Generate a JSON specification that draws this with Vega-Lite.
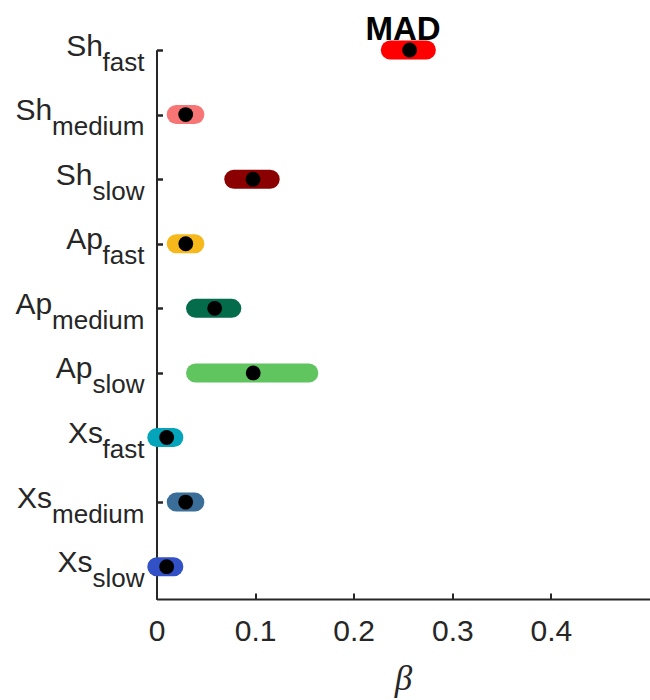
{
  "$schema": "https://vega.github.io/schema/vega-lite/v6.json",
  "width": 493,
  "height": 549,
  "autosize": {"type": "none"},
  "padding": {"left": 156.5, "top": 50, "right": 0.5, "bottom": 101},
  "background": "white",
  "title": {"text": "MAD", "font": "Liberation Sans", "fontSize": 33, "fontWeight": "bold", "color": "#000000", "anchor": "middle", "frame": "group", "baseline": "alphabetic", "offset": -42},
  "config": {"view": {"stroke": null}},
  "data": {"values": [
    {"cond": "Sh_fast", "idx": 1, "lo": 0.2371, "hi": 0.2737, "med": 0.2567},
    {"cond": "Sh_medium", "idx": 2, "lo": 0.0200, "hi": 0.0389, "med": 0.0296},
    {"cond": "Sh_slow", "idx": 3, "lo": 0.0784, "hi": 0.1153, "med": 0.0979},
    {"cond": "Ap_fast", "idx": 4, "lo": 0.0200, "hi": 0.0389, "med": 0.0297},
    {"cond": "Ap_medium", "idx": 5, "lo": 0.0396, "hi": 0.0764, "med": 0.0590},
    {"cond": "Ap_slow", "idx": 6, "lo": 0.0396, "hi": 0.1545, "med": 0.0981},
    {"cond": "Xs_fast", "idx": 7, "lo": 0.0003, "hi": 0.0176, "med": 0.0103},
    {"cond": "Xs_medium", "idx": 8, "lo": 0.0200, "hi": 0.0389, "med": 0.0296},
    {"cond": "Xs_slow", "idx": 9, "lo": 0.0003, "hi": 0.0176, "med": 0.0103}
  ]},
  "resolve": {"axis": {"y": "independent"}},
  "layer": [
    {
      "mark": {"type": "rule", "strokeWidth": 19, "strokeCap": "round"},
      "encoding": {
        "x": {"field": "lo", "type": "quantitative",
              "scale": {"domain": [0, 0.5], "nice": false, "zero": false},
              "axis": {"values": [0, 0.1, 0.2, 0.3, 0.4], "labelExpr": "datum.value == 0 ? '0' : format(datum.value, '.1f')",
                       "labelFont": "Liberation Sans", "labelFontSize": 30, "labelColor": "#262626", "labelFlush": false, "labelOverlap": false,
                       "labelPadding": 23, "tickSize": -6, "tickWidth": 2, "tickColor": "#262626", "domainColor": "#262626", "domainWidth": 2,
                       "grid": false, "title": "β", "titleFont": "Liberation Serif", "titleFontStyle": "italic", "titleFontWeight": "normal",
                       "titleFontSize": 35, "titleColor": "#262626", "titlePadding": 15}},
        "x2": {"field": "hi"},
        "y": {"field": "idx", "type": "quantitative",
              "scale": {"domain": [1, 9.5], "reverse": true, "nice": false, "zero": false},
              "axis": {"orient": "left", "values": [1, 2, 3, 4, 5, 6, 7, 8, 9],
                       "labelExpr": "datum.value <= 3 ? 'Sh' : (datum.value <= 6 ? 'Ap' : 'Xs')",
                       "labelFont": "Liberation Sans", "labelFontSize": 30, "labelColor": "#262626",
                       "labelAlign": "right", "labelBaseline": "alphabetic", "labelOffset": 5,
                       "labelPadding": {"condition": [
                         {"test": "(datum.value - 1) % 3 == 0", "value": 60},
                         {"test": "(datum.value - 1) % 3 == 1", "value": 110.9}
                       ], "value": 70.5},
                       "labelOverlap": false, "labelFlush": false, "labelBound": false,
                       "tickSize": -6, "tickWidth": 2, "tickColor": "#262626", "domainColor": "#262626", "domainWidth": 2,
                       "grid": false, "title": null}},
        "color": {"field": "cond", "type": "nominal", "legend": null,
                  "scale": {"domain": ["Sh_fast", "Sh_medium", "Sh_slow", "Ap_fast", "Ap_medium", "Ap_slow", "Xs_fast", "Xs_medium", "Xs_slow"],
                            "range": ["#FF0000", "#F77575", "#8B0000", "#F6B81A", "#046B4B", "#60C45F", "#04A5BA", "#3A6D97", "#3351C6"]}}
      }
    },
    {
      "mark": {"type": "point", "filled": true, "size": 220, "opacity": 1, "color": "#000000"},
      "encoding": {
        "x": {"field": "med", "type": "quantitative",
              "scale": {"domain": [0, 0.5], "nice": false, "zero": false},
              "axis": {"values": [0, 0.1, 0.2, 0.3, 0.4], "labelExpr": "datum.value == 0 ? '0' : format(datum.value, '.1f')",
                       "labelFont": "Liberation Sans", "labelFontSize": 30, "labelColor": "#262626", "labelFlush": false, "labelOverlap": false,
                       "labelPadding": 23, "tickSize": -6, "tickWidth": 2, "tickColor": "#262626", "domainColor": "#262626", "domainWidth": 2,
                       "grid": false, "title": "β", "titleFont": "Liberation Serif", "titleFontStyle": "italic", "titleFontWeight": "normal",
                       "titleFontSize": 35, "titleColor": "#262626", "titlePadding": 15}},
        "y": {"field": "idx", "type": "quantitative",
              "scale": {"domain": [1, 9.5], "reverse": true, "nice": false, "zero": false},
              "axis": {"orient": "left", "values": [1, 2, 3, 4, 5, 6, 7, 8, 9],
                       "labelExpr": "(datum.value - 1) % 3 == 0 ? 'fast' : ((datum.value - 1) % 3 == 1 ? 'medium' : 'slow')",
                       "labelFont": "Liberation Sans", "labelFontSize": 26, "labelColor": "#262626",
                       "labelAlign": "right", "labelBaseline": "alphabetic", "labelOffset": 20, "labelPadding": 18.5,
                       "labelOverlap": false, "labelFlush": false, "labelBound": false,
                       "tickSize": -6, "tickWidth": 2, "tickColor": "#262626", "domainColor": "#262626", "domainWidth": 2,
                       "grid": false, "title": null}}
      }
    }
  ]
}
